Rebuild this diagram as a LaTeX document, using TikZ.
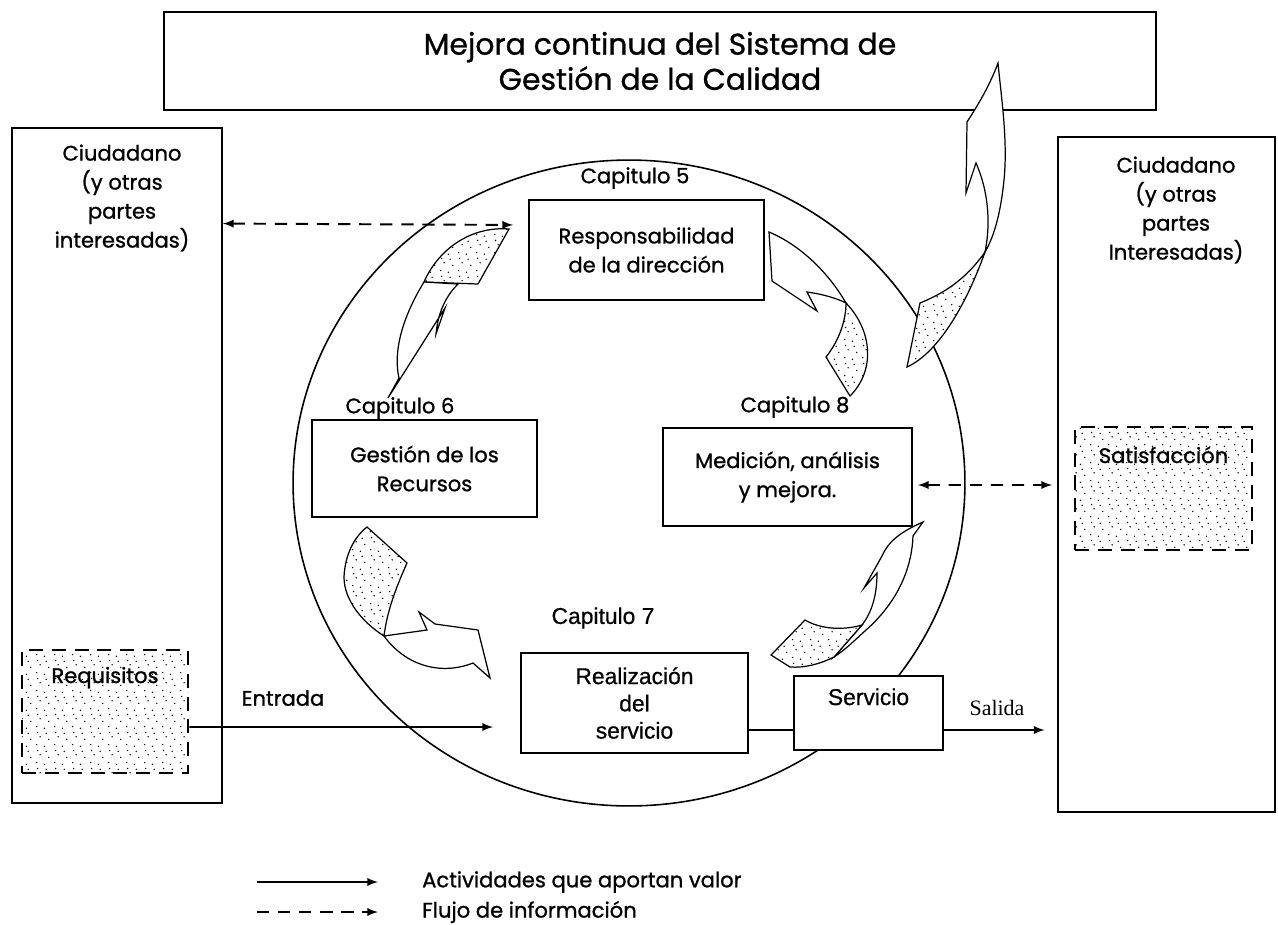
\documentclass[tikz,border=0pt]{standalone}
\usepackage{fontspec}
\setmainfont{Poppins}
\newfontfamily\gothf{Poppins}[FakeBold=1]
\newfontfamily\arialf{Liberation Sans}[FakeBold=0.6]
\newfontfamily\timesf{Liberation Serif}
\usepackage{tikz}
\usetikzlibrary{arrows,patterns,positioning}

\newcommand{\lblfont}{\gothf\fontsize{12}{16.5}\selectfont}
\newcommand{\ttlfont}{\gothf\fontsize{17}{20}\selectfont}
\newcommand{\arlfont}{\arialf\fontsize{13}{15.5}\selectfont}

\pgfdeclarepatternformonly{stipple}{\pgfqpoint{0pt}{0pt}}{\pgfqpoint{10pt}{10pt}}{\pgfqpoint{10pt}{10pt}}{
  \pgfpathcircle{\pgfqpoint{1pt}{2pt}}{0.45pt}
  \pgfpathcircle{\pgfqpoint{5.5pt}{1pt}}{0.45pt}
  \pgfpathcircle{\pgfqpoint{8pt}{5pt}}{0.45pt}
  \pgfpathcircle{\pgfqpoint{3pt}{6.5pt}}{0.45pt}
  \pgfpathcircle{\pgfqpoint{6.5pt}{8.5pt}}{0.45pt}
  \pgfpathcircle{\pgfqpoint{1.5pt}{9pt}}{0.45pt}
  \pgfusepath{fill}}

\begin{document}
\begin{tikzpicture}[x=0.02cm,y=-0.02cm]
            \useasboundingbox (0,0) rectangle (1278,924);
            \tikzstyle{box}=[rectangle,draw,line width=1.1pt,fill=white,align=center,inner sep=0pt,font=\lblfont]
            \tikzstyle{dbox}=[rectangle,draw,line width=1.5pt,dash pattern=on 8pt off 5pt,pattern=stipple,inner sep=0pt,font=\lblfont]
            \tikzstyle{txt}=[align=center,font=\lblfont]
            \tikzstyle{arl}=[align=center,font=\arlfont]

            \tikzstyle{act}=[-latex,line width=1.1pt]                                 % value flow
            \tikzstyle{info}=[latex-latex,line width=1.1pt,dash pattern=on 7pt off 5pt] % information
            \tikzstyle{blk}=[draw,fill=white,line width=0.7pt]                        % curved arrow
            \tikzstyle{twist}=[draw,fill=white,postaction={pattern=stipple},line width=0.7pt] % dotted tail

            \node[box,minimum width=19.86cm,minimum height=1.96cm,font=\ttlfont] (title) at (660,61) {Mejora continua del Sistema de\\Gestión de la Calidad};

            \node[box,minimum width=4.2cm,minimum height=13.5cm] (citL) at (117,465.5) {};
            \node[txt] (citLt) at (122,198) {Ciudadano\\(y otras\\partes\\interesadas)};
            \node[box,minimum width=4.34cm,minimum height=13.5cm] (citR) at (1166.5,474.5) {};
            \node[txt] (citRt) at (1176,210) {Ciudadano\\(y otras\\partes\\Interesadas)};
            \node[dbox,minimum width=3.32cm,text height=0.66cm,text depth=1.8cm] (req) at (105,711.5) {Requisitos};
            \node[dbox,minimum width=3.54cm,text height=0.72cm,text depth=1.74cm] (sat) at (1163.5,488.5) {Satisfacción};

            \draw[line width=0.9pt] (629,483) ellipse [x radius=6.72cm,y radius=6.46cm];

            \node[box,minimum width=4.7cm,minimum height=2cm] (resp) at (646.5,250) {Responsabilidad\\de la dirección};
            \node[box,minimum width=4.5cm,minimum height=1.94cm] (ges) at (424.5,468.5) {Gestión de los\\Recursos};
            \node[box,minimum width=4.98cm,minimum height=1.96cm] (med) at (787.5,477) {Medición, análisis\\y mejora.};
            \node[box,font=\arlfont,minimum width=4.54cm,minimum height=2cm] (rea) at (634.5,703) {Realización\\del\\servicio};
            \node[box,font=\arlfont,minimum width=2.98cm,text height=0.58cm,text depth=0.9cm] (ser) at (868.5,713) {Servicio};

            \node[txt] (cap5) at (635,178) {Capitulo 5};
            \node[txt] (cap6) at (400,408) {Capitulo 6};
            \node[txt] (cap8) at (795,407) {Capitulo 8};
            \node[arl] (cap7) at (603,618) {Capitulo 7};

            % cycle arrows
            \draw[twist] (509,229) .. controls (470,226) and (438,250) .. (424,282) -- (478,284) -- cycle;
            \draw[blk] (424,282) .. controls (402,318) and (393,352) .. (399,378) -- (388,398) -- (445,308) -- (436,334) .. controls (438,312) and (446,296) .. (458,284) -- cycle;

            \draw[twist] (367,527) -- (407,563) .. controls (395,590) and (387,612) .. (384,636) .. controls (362,622) and (344,600) .. (344,577) .. controls (345,555) and (354,537) .. (367,527) -- cycle;
            \draw[blk] (384,636) -- (427,630) -- (419,612) -- (435,624) -- (478,630) -- (490,678) -- (473,663) .. controls (440,676) and (405,665) .. (384,636) -- cycle;

            \draw[blk] (862,625) .. controls (872,612) and (877,595) .. (877,573) -- (864,588) -- (882,556) .. controls (888,542) and (900,532) .. (923,522) -- (913,536) .. controls (912,565) and (900,600) .. (866,630) .. controls (855,640) and (845,650) .. (834,657) -- cycle;
            \draw[twist] (771,655) -- (805,620) .. controls (822,630) and (845,630) .. (862,625) -- (834,657) .. controls (820,664) and (805,668) .. (790,667) -- cycle;

            \draw[blk] (846,303) .. controls (828,272) and (800,245) .. (769,232) -- (772,281) -- (817,311) -- (807,292) .. controls (822,294) and (836,298) .. (846,303) -- cycle;
            \draw[twist] (846,303) .. controls (872,330) and (876,370) .. (850,396) -- (826,357) .. controls (838,342) and (846,322) .. (846,303) -- cycle;

            % up to the title
            \draw[blk] (985,252) .. controls (990,228) and (990,195) .. (976,163) -- (966,193) -- (967,122) .. controls (978,105) and (990,85) .. (998,63) .. controls (1001,95) and (1008,140) .. (1004,180) .. controls (1001,210) and (995,235) .. (985,252) -- cycle;
            \draw[twist] (985,252) .. controls (968,300) and (940,352) .. (907,367) -- (920,303) .. controls (945,293) and (967,278) .. (985,252) -- cycle;

            \draw[act,shorten >=0.54cm] ([yshift=-0.31cm]req.east) -- ([yshift=-0.48cm]rea.west);
            \node[txt] (entr) at (283,698) {Entrada};
            \draw[line width=1.1pt] ([yshift=-0.54cm]rea.east) -- ([yshift=-0.34cm]ser.west);
            \draw[act,shorten >=0.25cm] ([yshift=-0.34cm]ser.east) -- ([yshift=-0.34cm]ser.east -| citR.west);
            \node[font=\timesf\fontsize{12.5}{14}\selectfont] (sal) at (997,708) {Salida};

            \draw[info,shorten >=0.3cm] ([yshift=4.84cm]citL.east) -- ([yshift=0.5cm]resp.west);
            \draw[info,shorten <=0.1cm,shorten >=0.1cm] ([yshift=-0.16cm]med.east) -- ([yshift=-0.21cm]citR.west);

            % legend
            \coordinate (la) at (257,882);
            \coordinate (lb) at (378,882);
            \coordinate (lc) at (257,912);
            \coordinate (ld) at (378,912);
            \draw[act] (la) -- (lb);
            \draw[info,-latex] (lc) -- (ld);
            \node[txt,anchor=west] (lgA) at (416,882) {Actividades que aportan valor};
            \node[txt,anchor=west] (lgB) at (416,912) {Flujo de información};
        \end{tikzpicture}
\end{document}
